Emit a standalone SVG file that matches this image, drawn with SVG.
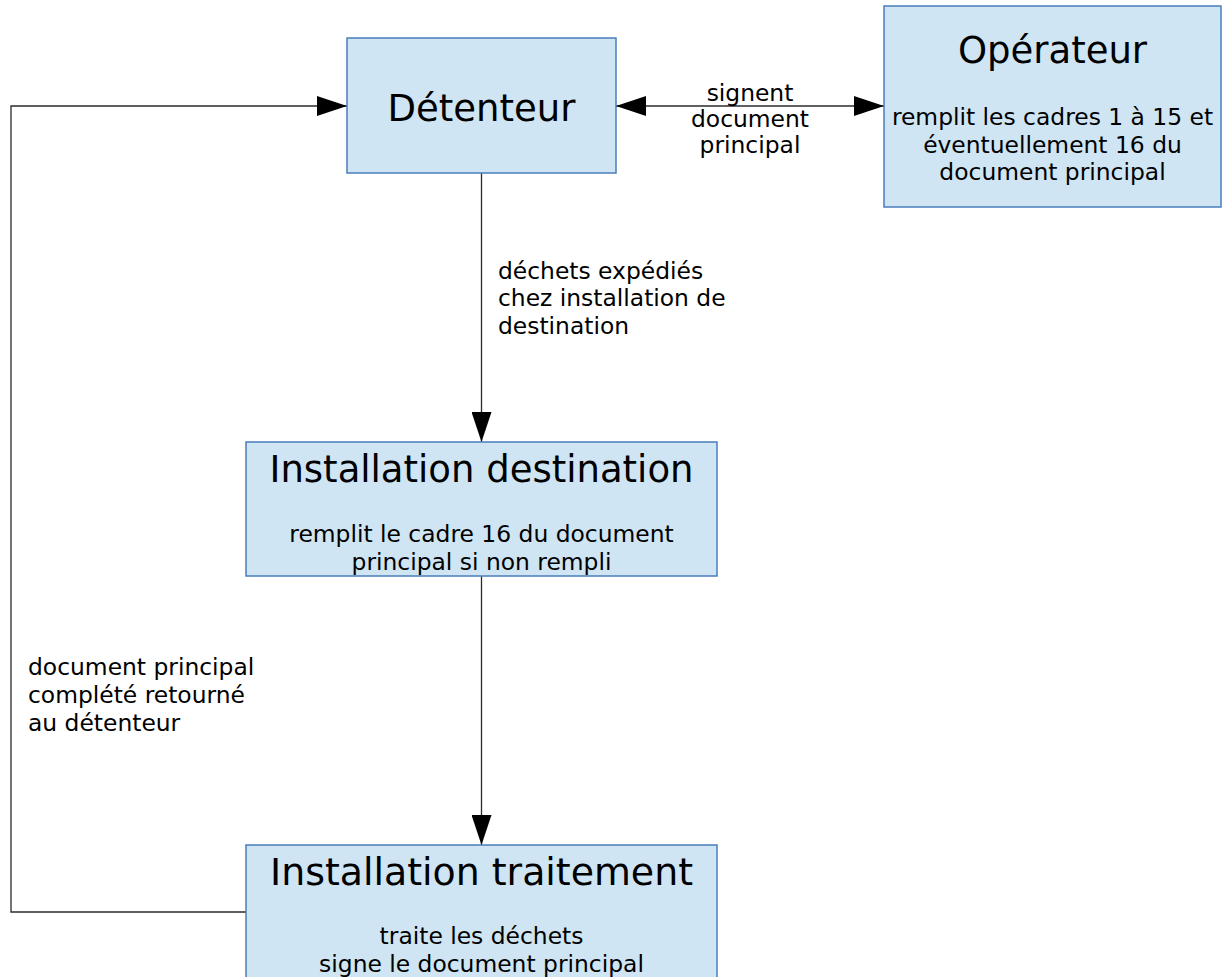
<svg xmlns="http://www.w3.org/2000/svg" width="1230" height="977" viewBox="0 0 1230 977">
<style>
.box{fill:#cfe5f3;stroke:#4a7ebb;stroke-width:1.5}
.t{font-family:"DejaVu Sans",Verdana,sans-serif;fill:#000;text-anchor:middle}
.title{font-size:37px}
.body{font-size:23.4px}
.lbl{font-family:"DejaVu Sans",Verdana,sans-serif;font-size:23.4px;fill:#000}
.c{fill:none;stroke:#2b2b2b;stroke-width:1.3}
</style>
<defs>
<marker id="ah" markerUnits="userSpaceOnUse" markerWidth="30" markerHeight="20" refX="30" refY="10" orient="auto-start-reverse" viewBox="0 0 30 20">
<path d="M0,0 L30,10 L0,20 z" fill="#000"/>
</marker>
</defs>
<rect width="1230" height="977" fill="#fff"/>
<g id="connectors">
<path class="c" d="M246,912 H11 V106 H347" marker-end="url(#ah)"/>
<path class="c" d="M616,106 H884" marker-start="url(#ah)" marker-end="url(#ah)"/>
<path class="c" d="M481.5,173 V442" marker-end="url(#ah)"/>
<path class="c" d="M481.5,576 V845" marker-end="url(#ah)"/>
<text class="lbl" text-anchor="middle"><tspan x="750" y="101">signent</tspan><tspan x="750" y="127">document</tspan><tspan x="750" y="153">principal</tspan></text>
<text class="lbl"><tspan x="498" y="278.5">déchets expédiés</tspan><tspan x="498" y="306">chez installation de</tspan><tspan x="498" y="333.5">destination</tspan></text>
<text class="lbl"><tspan x="28" y="675">document principal</tspan><tspan x="28" y="703">complété retourné</tspan><tspan x="28" y="731">au détenteur</tspan></text>
</g>
<g id="detenteur">
<rect class="box" x="347" y="38" width="269" height="135"/>
<text class="t title" x="481.5" y="121">Détenteur</text>
</g>
<g id="operateur">
<rect class="box" x="884" y="6" width="337" height="201"/>
<text class="t title" x="1052.5" y="63">Opérateur</text>
<text class="t body"><tspan x="1052.5" y="125">remplit les cadres 1 à 15 et</tspan><tspan x="1052.5" y="152.5">éventuellement 16 du</tspan><tspan x="1052.5" y="180">document principal</tspan></text>
</g>
<g id="destination">
<rect class="box" x="246" y="442" width="471" height="134"/>
<text class="t title" x="481.5" y="482">Installation destination</text>
<text class="t body"><tspan x="481.5" y="542">remplit le cadre 16 du document</tspan><tspan x="481.5" y="569.5">principal si non rempli</tspan></text>
</g>
<g id="traitement">
<rect class="box" x="246" y="845" width="471" height="140"/>
<text class="t title" x="481.5" y="885" textLength="423" lengthAdjust="spacingAndGlyphs">Installation traitement</text>
<text class="t body"><tspan x="481.5" y="944">traite les déchets</tspan><tspan x="481.5" y="971.5">signe le document principal</tspan></text>
</g>
</svg>
